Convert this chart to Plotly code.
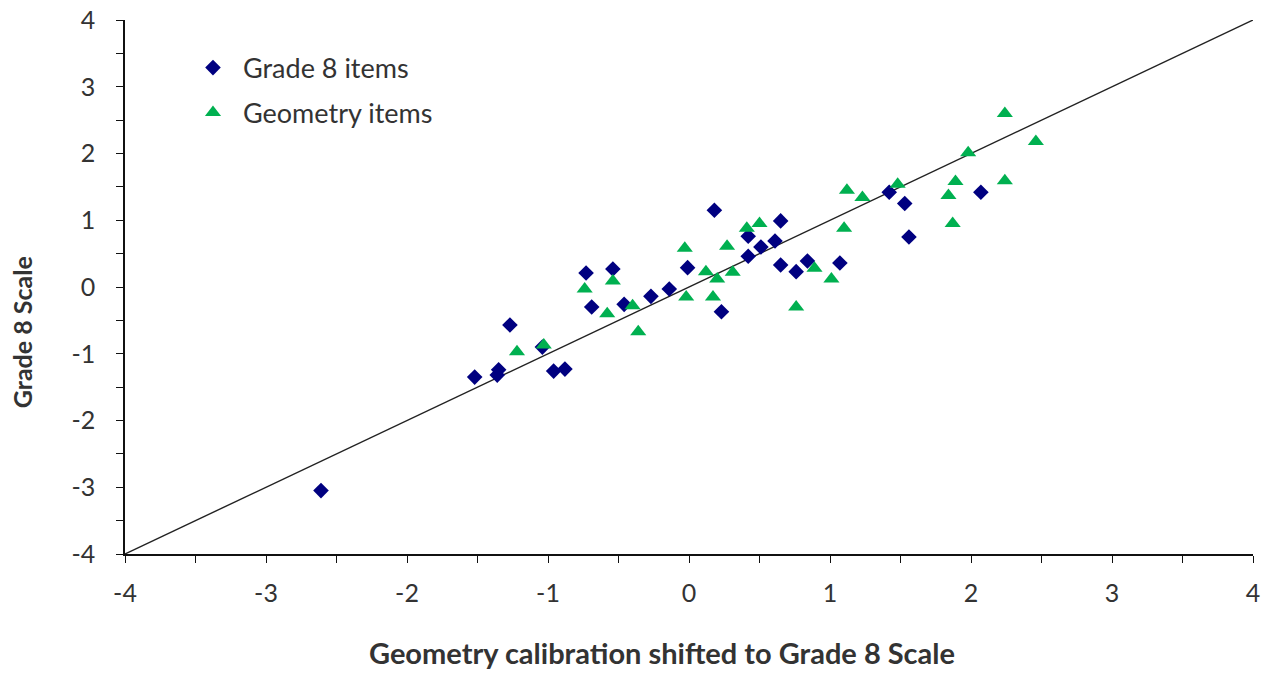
import plotly.graph_objects as go

# Grade 8 item difficulties vs. geometry calibration (shifted)
grade8_x = [-1.52, -1.36, -1.35, -0.96, -0.88, -1.27, -1.04, -0.73, -0.54, -0.69,
            -0.46, -0.27, -0.14, -0.01, 0.18, 0.23, 0.42, 0.42, 0.51, 0.61,
            0.65, 0.65, 0.76, 0.84, 1.07, 1.42, 1.53, 1.56, 2.07, -2.61]
grade8_y = [-1.35, -1.32, -1.24, -1.26, -1.23, -0.57, -0.90, 0.21, 0.27, -0.30,
            -0.26, -0.14, -0.03, 0.29, 1.15, -0.37, 0.46, 0.76, 0.60, 0.69,
            0.99, 0.33, 0.23, 0.39, 0.36, 1.42, 1.25, 0.75, 1.42, -3.05]

geom_x = [-1.22, -1.03, -0.74, -0.54, -0.58, -0.40, -0.36, -0.03, -0.02, 0.12,
          0.20, 0.17, 0.27, 0.31, 0.41, 0.50, 0.89, 1.01, 0.76, 1.10,
          1.12, 1.23, 1.48, 1.89, 1.84, 1.87, 1.98, 2.24, 2.24, 2.46]
geom_y = [-0.97, -0.87, -0.03, 0.09, -0.40, -0.28, -0.67, 0.58, -0.15, 0.23,
          0.12, -0.15, 0.61, 0.22, 0.88, 0.95, 0.28, 0.12, -0.30, 0.88,
          1.45, 1.34, 1.54, 1.58, 1.37, 0.95, 2.01, 1.59, 2.60, 2.18]

axis_range = [-4, 4]
tick_vals = [-4, -3, -2, -1, 0, 1, 2, 3, 4]
tick_text = ["-4", "-3", "-2", "-1", "0", "1", "2", "3", "4"]

FONT = "Lato, 'Open Sans', sans-serif"
TEXT = "#333333"

fig = go.Figure()

# identity reference line
fig.add_trace(go.Scatter(
    x=axis_range, y=axis_range, mode="lines",
    line=dict(color="#222222", width=1.4), showlegend=False, hoverinfo="skip"))

fig.add_trace(go.Scatter(
    x=grade8_x, y=grade8_y, mode="markers", name="Grade 8 items",
    marker=dict(symbol="diamond", size=12, color="#000080", line=dict(width=0)),
    legend="legend"))

fig.add_trace(go.Scatter(
    x=geom_x, y=geom_y, mode="markers", name="Geometry items",
    marker=dict(symbol="triangle-up", size=14, color="#00B050", line=dict(width=0)),
    legend="legend2"))

axis_common = dict(
    range=axis_range, tickvals=tick_vals, ticktext=tick_text,
    showgrid=False, zeroline=False, automargin=False,
    showline=True, linecolor="#111111", linewidth=1.5,
    ticks="outside", ticklen=7, tickwidth=1.3, tickcolor="#111111",
    minor=dict(dtick=0.5, ticks="outside", ticklen=7, tickwidth=1.3,
               tickcolor="#111111", showgrid=False),
    tickfont=dict(family=FONT, size=25, color=TEXT),
    fixedrange=True,
)

legend_common = dict(
    xanchor="left", yanchor="middle", bgcolor="rgba(0,0,0,0)",
    itemwidth=50, font=dict(family=FONT, size=27, color=TEXT),
)

fig.update_layout(
    width=1272, height=673,
    margin=dict(l=125, r=19, t=20, b=119),
    paper_bgcolor="white", plot_bgcolor="white",
    xaxis=dict(**axis_common, ticklabelstandoff=9),
    yaxis=dict(**axis_common, ticklabelstandoff=16),
    legend=dict(**legend_common, x=0.0514, y=0.910),
    legend2=dict(**legend_common, x=0.0514, y=0.826),
    annotations=[
        dict(text="<b>Geometry calibration shifted to Grade 8 Scale</b>",
             xref="paper", yref="paper", x=0.476, y=-0.184,
             xanchor="center", yanchor="middle", showarrow=False,
             font=dict(family=FONT, size=29, color=TEXT)),
        dict(text="<b>Grade 8 Scale</b>",
             xref="paper", yref="paper", x=-0.091, y=0.416,
             xanchor="center", yanchor="middle", showarrow=False, textangle=-90,
             font=dict(family=FONT, size=25, color=TEXT)),
    ],
)

fig.write_html("out.html")
